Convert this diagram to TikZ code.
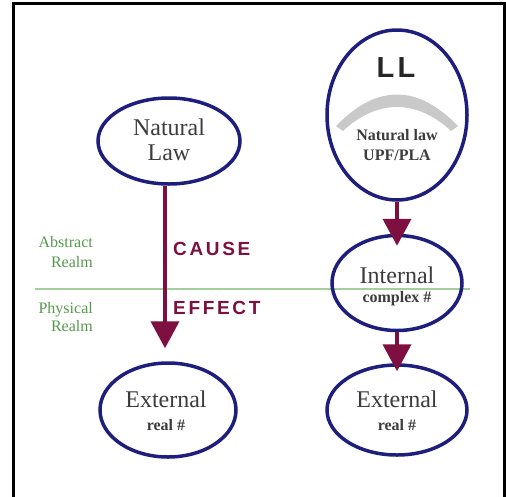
\documentclass[tikz,border=0pt]{standalone}
\usepackage{fontspec}
\setmainfont{Liberation Serif}
\newfontfamily\capfont[LetterSpace=14]{Liberation Sans}
\newfontfamily\logofont[LetterSpace=12]{Liberation Sans}
\usetikzlibrary{arrows.meta,shapes.geometric}
\definecolor{navy}{HTML}{1E1E7C}
\definecolor{wine}{HTML}{7D1040}
\definecolor{ink}{HTML}{3C3C3C}
\definecolor{realm}{HTML}{559A4C}
\definecolor{realmline}{HTML}{A3CF9C}
\definecolor{band}{HTML}{C9C9C9}

\begin{document}
\begin{tikzpicture}[x=1pt,y=-1pt,
  bubble/.style={ellipse,draw=navy,line width=3.5pt,inner sep=0pt},
  flow/.style={draw=wine,line width=4pt,-{Triangle[width=28pt,length=27pt]}},
  big/.style={font=\fontsize{24}{26}\selectfont,text=ink,inner sep=0pt,anchor=base},
  small/.style={font=\bfseries\fontsize{16}{18}\selectfont,text=ink,inner sep=0pt,anchor=base},
  realmtxt/.style={font=\fontsize{16}{19}\selectfont,text=realm,inner sep=0pt,anchor=base east},
  tag/.style={font=\capfont\bfseries\fontsize{19}{21}\selectfont,text=wine,inner sep=0pt,anchor=base west}]
\useasboundingbox (0,0) rectangle (506,496);

% outer frame (open at the bottom)
\draw[line width=3pt] (13.5,500) -- (13.5,3) -- (504,3) -- (504,500);

% boundary between the two realms
\draw[realmline,line width=2pt] (35,289) -- (470,289);
\node[realmtxt] (abs1) at (93,247) {Abstract};
\node[realmtxt] (abs2) at (93,267) {Realm};
\node[realmtxt] (phy1) at (93,313) {Physical};
\node[realmtxt] (phy2) at (93,331) {Realm};

% ellipses
\node[bubble,minimum width=142pt,minimum height=86pt] (nat) at (169,141) {};
\node[bubble,minimum width=140pt,minimum height=170pt] (ll) at (397,115) {};
\node[bubble,minimum width=130pt,minimum height=95pt] (int) at (397,283) {};
\node[bubble,minimum width=136pt,minimum height=94pt] (extL) at (168,410) {};
\node[bubble,minimum width=140pt,minimum height=90pt] (extR) at (397,410) {};

% texts inside the ellipses
\node[big] (natA) at (169,135) {Natural};
\node[big] (natB) at (169,160) {Law};
\node[big] (intA) at (397,283) {Internal};
\node[small] (intB) at (397,302) {complex \#};
\node[big] (extLA) at (166,407) {External};
\node[small] (extLB) at (166,430) {real \#};
\node[big] (extRA) at (397,407) {External};
\node[small] (extRB) at (397,430) {real \#};

% LL emblem
\node[font=\logofont\bfseries\fontsize{29}{31}\selectfont,inner sep=0pt,anchor=base,text=black!85] (llA) at (396,77) {LL};
\fill[band] (336,126) .. controls (377,84) and (417,84) .. (458,126)
  -- (451,131) .. controls (417,99) and (377,99) .. (343,131) -- cycle;
\node[small] (llB) at (397,140) {Natural law};
\node[small] (llC) at (397,160) {UPF/PLA};

% causal arrows
\draw[flow] ([xshift=-4pt]nat.south) -- ([xshift=-3pt,yshift=13pt]extL.north);
\draw[flow] (ll.south) -- ([yshift=-12pt]int.north);
\draw[flow] (int.south) -- ([yshift=-8pt]extR.north);

\node[tag] (cause) at (173,255) {CAUSE};
\node[tag] (effect) at (173,314) {EFFECT};
\end{tikzpicture}
\end{document}
